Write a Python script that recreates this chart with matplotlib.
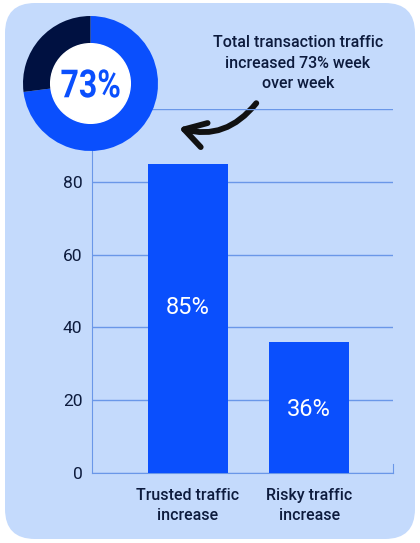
import matplotlib.pyplot as plt
from matplotlib.patches import FancyBboxPatch, FancyArrowPatch, Circle, PathPatch
from matplotlib.textpath import TextPath
from matplotlib.font_manager import FontProperties
from matplotlib.transforms import Affine2D

# data
categories = ["Trusted traffic\nincrease", "Risky traffic\nincrease"]
values = [85, 36]
bar_labels = ["85%", "36%"]
label_y = [45.5, 17.5]
y_ticks = [0, 20, 40, 60, 80, 100]
y_tick_labels = ["0", "20", "40", "60", "80", ""]
donut_parts = [73, 27]
donut_label = "73%"
note = "Total transaction traffic\nincreased 73% week\nover week"

bg = "#c4dafc"
blue = "#0a4ffd"
navy = "#001141"
grid_col = "#6a97e8"
text_col = "#0d1b3d"

plt.rcParams['font.family'] = ['Roboto', 'DejaVu Sans']

W, H = 420, 543
fig = plt.figure(figsize=(W / 100, H / 100), dpi=100)
fig.patch.set_facecolor("white")

# rounded background card, drawn in pixel space
bgax = fig.add_axes([0, 0, 1, 1])
bgax.set_xlim(0, W)
bgax.set_ylim(H, 0)
bgax.axis("off")
card = FancyBboxPatch((5, 3), 410, 536, boxstyle="round,pad=0,rounding_size=30",
                      facecolor=bg, edgecolor="none")
bgax.add_patch(card)

# bar chart
ax = fig.add_axes([92 / W, 1 - 473 / H, 301 / W, 364 / H])
ax.set_facecolor("none")
x = list(range(len(categories)))
ax.bar(x, values, width=0.66, color=blue, zorder=3)
for xi, ly, lab in zip(x, label_y, bar_labels):
    ax.text(xi, ly, lab, ha="center", va="center", color="white", fontsize=17, zorder=4)
ax.set_xlim(-0.79, 1.69)
ax.set_ylim(0, 100)
ax.set_yticks(y_ticks)
ax.set_yticklabels(y_tick_labels)
ax.set_xticks(x)
ax.set_xticklabels(categories, linespacing=1.4, fontweight="medium")
ax.tick_params(axis="both", length=0, colors=text_col)
ax.tick_params(axis="y", pad=7, labelsize=12.5)
ax.tick_params(axis="x", pad=11, labelsize=11.5)
ax.yaxis.grid(True, color=grid_col, linewidth=1, zorder=0)
ax.spines["top"].set_visible(False)
ax.spines["left"].set_color(grid_col)
ax.spines["bottom"].set_color(grid_col)
ax.spines["right"].set_color(grid_col)
ax.spines["right"].set_bounds(0, 2.5)

# donut
dax = fig.add_axes([23 / W, 1 - 151 / H, 135 / W, 135 / H])
dax.pie(donut_parts, colors=[blue, navy], startangle=90, counterclock=False,
        radius=1, wedgeprops=dict(width=1, edgecolor="none"))
dax.add_patch(Circle((0, 0), 0.59, color="white", zorder=5))
# condensed bold label: squeeze a text path horizontally
tp = TextPath((0, 0), donut_label, size=1, prop=FontProperties(family="Roboto", weight="bold"))
ext = tp.get_extents()
sx, sy = 0.86 / ext.width, 0.42 / ext.height
tr = Affine2D().translate(-ext.x0 - ext.width / 2, -ext.y0 - ext.height / 2).scale(sx, sy)
dax.add_patch(PathPatch(tr.transform_path(tp), facecolor=blue, edgecolor="none", zorder=6))
dax.set_xlim(-1, 1)
dax.set_ylim(-1, 1)
dax.set_aspect("equal")
dax.axis("off")

# annotation text and arrow
bgax.text(298, 63, note, ha="center", va="center", color=text_col,
          fontsize=11.5, linespacing=1.45, fontweight="medium")
arrow = FancyArrowPatch((258, 101), (176, 127), connectionstyle="arc3,rad=-0.35",
                        arrowstyle="->,head_length=15,head_width=9",
                        color="#111111", linewidth=4.2, capstyle="round",
                        joinstyle="round")
bgax.add_patch(arrow)

fig.savefig("out.png", dpi=100, facecolor="white")
